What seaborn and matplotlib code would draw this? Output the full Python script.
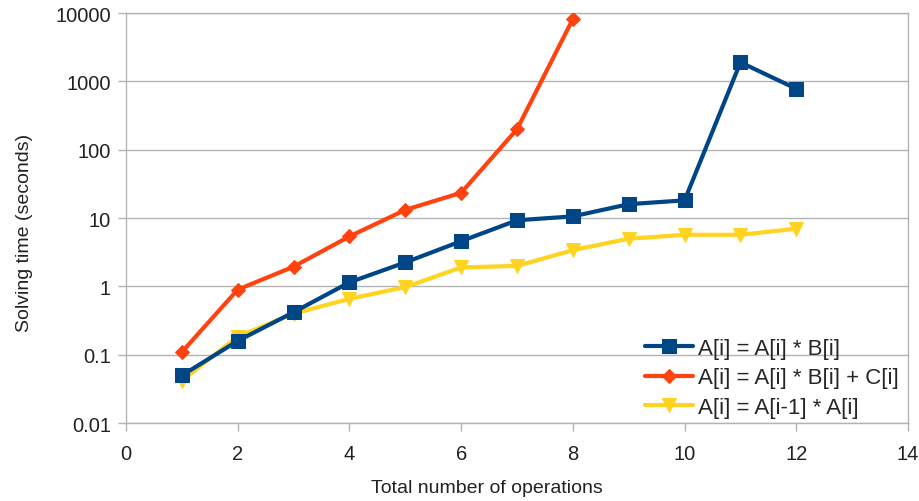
import matplotlib
matplotlib.use("Agg")
import matplotlib.pyplot as plt
import matplotlib.ticker as mticker
import numpy as np
import pandas as pd
import seaborn as sns

# ── Data ─────────────────────────────────────────────────────────────────────
ops_blue = [1, 2, 3, 4, 5, 6, 7, 8, 9, 10, 11, 12]
time_blue = [0.05, 0.16, 0.42, 1.15, 2.25, 4.6, 9.3, 10.6, 16, 18.2, 1900, 780]

ops_red = [1, 2, 3, 4, 5, 6, 7, 8]
time_red = [0.11, 0.9, 1.95, 5.4, 13.2, 23.5, 200, 8200]

ops_yellow = [1, 2, 3, 4, 5, 6, 7, 8, 9, 10, 11, 12]
time_yellow = [0.042, 0.185, 0.4, 0.66, 0.98, 1.9, 2.0, 3.4, 5.0, 5.7, 5.7, 7.0]

LABELS = ["A[i] = A[i] * B[i]", "A[i] = A[i] * B[i] + C[i]", "A[i] = A[i-1] * A[i]"]
COLORS = ["#004586", "#ff420e", "#ffd320"]
MARKERS = ["s", "D", "v"]
MSIZES = [10, 7, 10]

sns.set_theme(style="white")
plt.rcParams["font.family"] = ["Liberation Sans", "DejaVu Sans"]

fig = plt.figure(figsize=(9.2, 5.02), dpi=100)
ax = fig.add_axes([0.137, 0.155, 0.85, 0.817])

series = [(ops_blue, time_blue), (ops_red, time_red), (ops_yellow, time_yellow)]
for (xs, ys), label, color, marker, ms in zip(series, LABELS, COLORS, MARKERS, MSIZES):
    df = pd.DataFrame({"ops": xs, "time": ys})
    sns.lineplot(data=df, x="ops", y="time", ax=ax, color=color, linewidth=3,
                 marker=marker, markersize=ms, markeredgecolor=color,
                 label=label)

# keep blue drawn above yellow as in the reference
for line, z in zip(ax.get_lines(), [4, 3, 2]):
    line.set_zorder(z)

ax.set_yscale("log")
ax.set_ylim(0.01, 10000)
ax.set_xlim(0, 14)
ax.set_xticks(np.arange(0, 15, 2))
ax.yaxis.set_major_locator(mticker.LogLocator(base=10, numticks=10))
ax.yaxis.set_minor_locator(mticker.NullLocator())
ax.yaxis.set_major_formatter(mticker.FuncFormatter(lambda v, p: f"{v:g}"))

ax.grid(axis="y", color="#b3b3b3", linewidth=1)
ax.grid(axis="x", visible=False)
for s in ax.spines.values():
    s.set_color("#b3b3b3")
    s.set_linewidth(1)
ax.tick_params(axis="both", which="major", length=6, width=1, color="#b3b3b3",
               labelsize=14.5, labelcolor="#222222", direction="out",
               bottom=True, left=True)
ax.tick_params(axis="y", pad=5)
ax.tick_params(axis="x", pad=9)

ax.set_xlabel("Total number of operations", fontsize=14, color="#222222")
ax.set_ylabel("Solving time (seconds)", fontsize=14, color="#222222")
ax.xaxis.set_label_coords(0.462, -0.135)
ax.yaxis.set_label_coords(-0.119, 0.466)

ax.legend(loc="lower right", bbox_to_anchor=(0.988, 0.013), frameon=False,
          fontsize=16, handlelength=2.2, borderaxespad=0, borderpad=0,
          labelspacing=0.38, handletextpad=0.2)

fig.savefig("out.png", dpi=100)
